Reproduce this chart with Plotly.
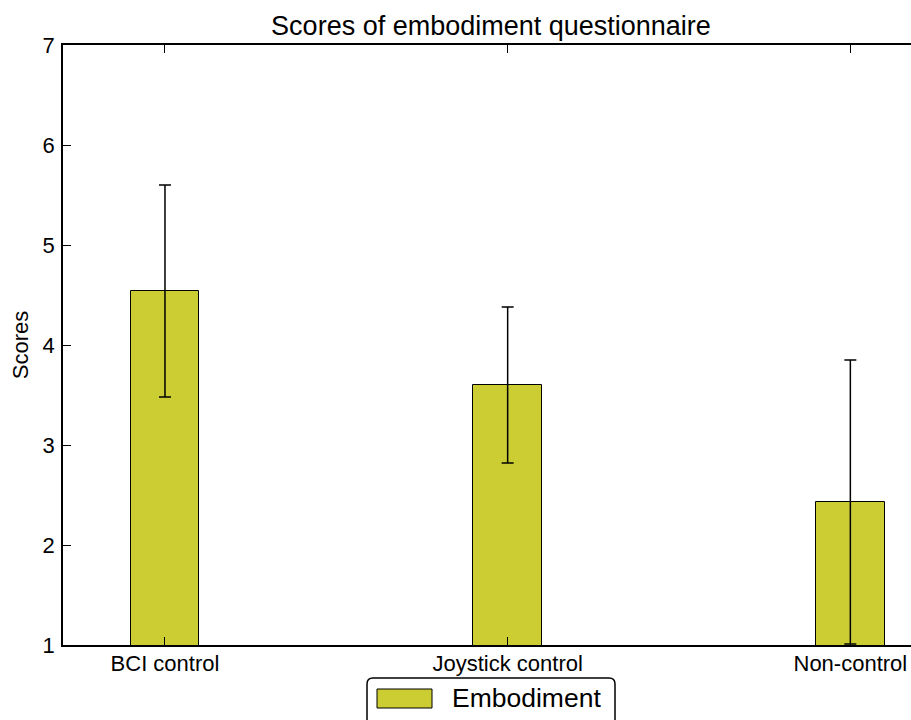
import plotly.graph_objects as go

categories = ["BCI control", "Joystick control", "Non-control"]
scores = [4.54, 3.60, 2.43]
errors = [1.06, 0.78, 1.42]
y_tick_values = [1, 2, 3, 4, 5, 6, 7]
series_name = "Embodiment"
chart_title = "Scores of embodiment questionnaire"
y_label = "Scores"

BAR_COLOR = "#CCCC33"
FONT = "Liberation Sans, Arial, Helvetica, sans-serif"

W, H = 911, 720
ML, MR, MT, MB = 63, 0, 45, 75
PW = W - ML - MR
PH = H - MT - MB


def px(xp):
    return (xp - ML) / PW


def py(yp):
    return (H - MB - yp) / PH


positions = list(range(len(categories)))

fig = go.Figure()
fig.add_trace(go.Bar(
    x=positions, y=scores, width=0.2, name=series_name,
    marker=dict(color=BAR_COLOR, line=dict(color="black", width=1)),
    error_y=dict(type="data", array=errors, color="black", thickness=1.5, width=6),
    showlegend=False,
))

# legend box (matplotlib-style fancy box)
x0, x1, y0, y1, r = 367, 615, 678, 722, 6
path = (f"M {px(x0 + r)},{py(y0)} L {px(x1 - r)},{py(y0)} "
        f"Q {px(x1)},{py(y0)} {px(x1)},{py(y0 + r)} L {px(x1)},{py(y1)} "
        f"L {px(x0)},{py(y1)} L {px(x0)},{py(y0 + r)} "
        f"Q {px(x0)},{py(y0)} {px(x0 + r)},{py(y0)} Z")
shapes = [
    dict(type="path", xref="paper", yref="paper", path=path,
         fillcolor="white", line=dict(color="black", width=1.5), layer="above"),
    dict(type="rect", xref="paper", yref="paper",
         x0=px(377), x1=px(432), y0=py(708), y1=py(689),
         fillcolor=BAR_COLOR, line=dict(color="black", width=1), layer="above"),
]
annotations = [
    dict(text=series_name, xref="paper", yref="paper", x=px(450), y=py(698),
         xanchor="left", yanchor="middle", showarrow=False,
         font=dict(size=26.5, color="black", family=FONT)),
]

fig.update_layout(
    width=W, height=H,
    margin=dict(l=ML, r=MR, t=MT, b=MB, autoexpand=False),
    paper_bgcolor="white", plot_bgcolor="white",
    font=dict(family=FONT, color="black", size=22),
    title=dict(text=chart_title, x=px(491), xanchor="center",
               xref="paper", yref="paper", y=1, yanchor="bottom",
               pad=dict(b=10), font=dict(size=27, color="black")),
    shapes=shapes, annotations=annotations,
    bargap=0,
)
fig.update_xaxes(
    range=[-0.2976, 2.177], tickmode="array", tickvals=positions, ticktext=categories,
    ticks="inside", ticklen=8, tickwidth=1, tickcolor="black",
    showline=True, linecolor="black", linewidth=1.5, mirror="ticks",
    showgrid=False, zeroline=False, tickfont=dict(size=22), ticklabelstandoff=-2,
)
fig.update_yaxes(
    range=[1, 7], tickmode="array", tickvals=y_tick_values,
    ticks="inside", ticklen=8, tickwidth=1, tickcolor="black",
    showline=True, linecolor="black", linewidth=1.5, mirror=False,
    showgrid=False, zeroline=False, tickfont=dict(size=22), ticklabelstandoff=2,
    title=dict(text=y_label, standoff=8, font=dict(size=22)),
)

fig.write_html(
    "out.html",
    config={"displayModeBar": False},
    post_script="document.body.style.margin='0';document.body.style.overflow='hidden';",
)
